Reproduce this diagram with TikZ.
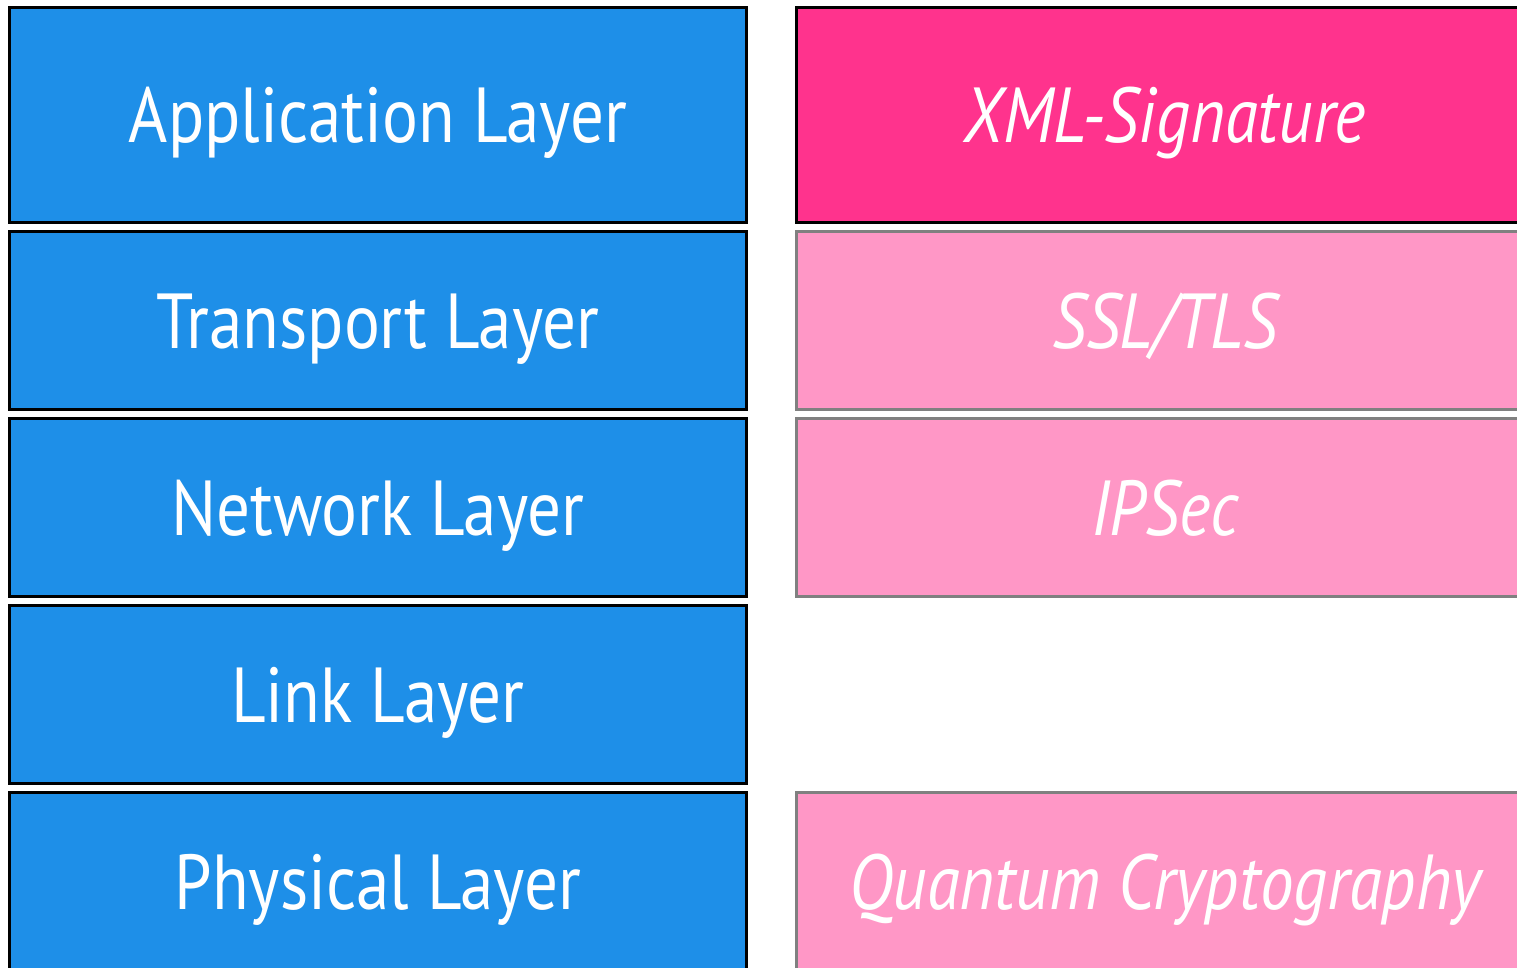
\documentclass[tikz,border=0pt]{standalone}
\usepackage{fontspec}
\setmainfont{PT Sans}[FakeStretch=0.86]
\definecolor{layerblue}{HTML}{1E8FE8}
\definecolor{hotpink}{HTML}{FF338D}
\definecolor{lightpink}{HTML}{FF97C6}
\definecolor{framegray}{HTML}{808080}
\tikzset{
  basebox/.style={line width=3pt, minimum width=737pt, inner sep=0pt, text=white, text height=55pt, text depth=0pt},
  layerbox/.style={basebox, draw=black, fill=layerblue, font=\fontsize{78}{82}\selectfont},
  secmain/.style={basebox, draw=black, fill=hotpink, font=\fontsize{78}{82}\selectfont\itshape},
  secbox/.style={basebox, draw=framegray, fill=lightpink, font=\fontsize{78}{82}\selectfont\itshape},
  tall/.style={minimum height=215pt},
  row/.style={minimum height=178pt}
}
\begin{document}
\begin{tikzpicture}[x=1pt,y=-1pt]
\useasboundingbox (0,0) rectangle (1517,968);
\node[layerbox, tall] (app) at (378,115) {Application Layer};
\node[layerbox, row] (trans) at (378,320.5) {Transport Layer};
\node[layerbox, row] (net) at (378,507.5) {Network Layer};
\node[layerbox, row] (link) at (378,694.5) {Link Layer};
\node[layerbox, row] (phys) at (378,881.5) {Physical Layer};
\node[secmain, tall] (xml) at (1165,115) {XML-Signature};
\node[secbox, row] (ssl) at (1165,320.5) {SSL/TLS};
\node[secbox, row] (ipsec) at (1165,507.5) {IPSec};
\node[secbox, row] (quantum) at (1165,881.5) {Quantum Cryptography};
\end{tikzpicture}
\end{document}
